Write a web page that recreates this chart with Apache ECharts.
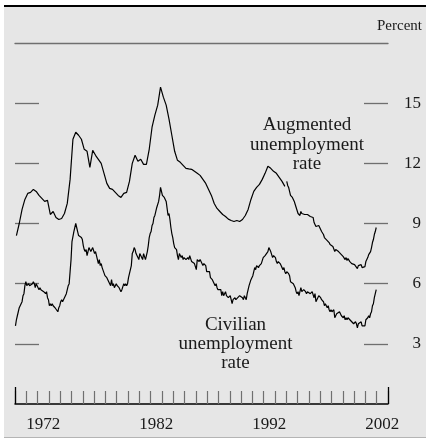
<!DOCTYPE html>
<html>
<head>
<meta charset="utf-8">
<script src="https://cdn.jsdelivr.net/npm/echarts@6/dist/echarts.min.js"></script>
<style>
  html, body { margin: 0; padding: 0; background: #ffffff; }
  #frame { position: absolute; left: 4px; top: 5px; width: 422px; height: 430px;
           background: #e6e6e6; border-top: 2.5px solid #000; border-bottom: 1px solid #b4b4b4; }
  #chart { position: absolute; left: 0; top: 0; width: 426px; height: 439px; }
</style>
</head>
<body>
<div id="frame"></div>
<div id="chart"></div>
<script>
// Civilian unemployment rate, monthly, Jan 1970 - Dec 2001 (percent)
const civilianMonthly = [
  3.9,4.2,4.4,4.6,4.8,4.9,5.0,5.1,5.4,5.5,5.9,6.1,
  5.9,5.9,6.0,5.9,5.9,5.9,6.0,6.1,6.0,5.8,6.0,6.0,
  5.8,5.7,5.8,5.7,5.7,5.7,5.6,5.6,5.5,5.6,5.3,5.2,
  4.9,5.0,4.9,5.0,4.9,4.9,4.8,4.8,4.8,4.6,4.8,4.9,
  5.1,5.2,5.1,5.1,5.1,5.4,5.5,5.5,5.9,6.0,6.6,7.2,
  8.1,8.1,8.6,8.8,9.0,8.8,8.6,8.4,8.4,8.4,8.3,8.2,
  7.9,7.7,7.6,7.7,7.4,7.6,7.8,7.8,7.6,7.7,7.8,7.8,
  7.5,7.6,7.4,7.2,7.0,7.2,6.9,7.0,6.8,6.8,6.8,6.4,
  6.4,6.3,6.3,6.1,6.0,5.9,6.2,5.9,6.0,5.8,5.9,6.0,
  5.9,5.9,5.8,5.8,5.6,5.7,5.7,6.0,5.9,6.0,5.9,6.0,
  6.3,6.3,6.3,6.9,7.5,7.6,7.8,7.7,7.5,7.5,7.5,7.2,
  7.5,7.4,7.4,7.2,7.5,7.5,7.2,7.4,7.6,7.9,8.3,8.5,
  8.6,8.9,9.0,9.3,9.4,9.6,9.8,9.8,10.1,10.4,10.8,10.8,
  10.4,10.4,10.3,10.2,10.1,10.1,9.4,9.5,9.2,8.8,8.5,8.3,
  8.0,7.8,7.8,7.7,7.4,7.2,7.5,7.5,7.3,7.4,7.2,7.3,
  7.3,7.2,7.2,7.3,7.2,7.4,7.4,7.1,7.1,7.1,7.0,7.0,
  6.7,7.2,7.2,7.1,7.2,7.2,7.0,6.9,7.0,7.0,6.9,6.6,
  6.6,6.6,6.6,6.3,6.3,6.2,6.1,6.0,5.9,6.0,5.8,5.7,
  5.7,5.7,5.7,5.4,5.6,5.4,5.4,5.6,5.4,5.4,5.3,5.3,
  5.4,5.2,5.0,5.2,5.2,5.3,5.2,5.2,5.3,5.3,5.4,5.4,
  5.4,5.3,5.2,5.4,5.4,5.2,5.5,5.7,5.9,5.9,6.2,6.3,
  6.4,6.6,6.8,6.7,6.9,6.9,6.8,6.9,6.9,7.0,7.0,7.3,
  7.3,7.4,7.4,7.4,7.6,7.8,7.7,7.6,7.6,7.3,7.4,7.4,
  7.3,7.1,7.0,7.1,7.1,7.0,6.9,6.8,6.7,6.8,6.6,6.5,
  6.6,6.6,6.5,6.4,6.1,6.1,6.1,6.0,5.9,5.8,5.6,5.5,
  5.6,5.4,5.4,5.8,5.6,5.6,5.7,5.7,5.6,5.5,5.6,5.6,
  5.6,5.5,5.5,5.6,5.6,5.3,5.5,5.1,5.2,5.2,5.4,5.4,
  5.3,5.2,5.2,5.1,4.9,5.0,4.9,4.8,4.9,4.7,4.6,4.7,
  4.6,4.6,4.7,4.3,4.4,4.5,4.5,4.5,4.6,4.5,4.4,4.4,
  4.3,4.4,4.2,4.3,4.2,4.3,4.3,4.2,4.2,4.1,4.1,4.0,
  4.0,4.1,4.0,3.8,4.0,4.0,4.0,4.1,3.9,3.9,3.9,3.9,
  4.2,4.2,4.3,4.4,4.3,4.5,4.6,4.9,5.0,5.3,5.5,5.7
];
const civilianStart = 1970;

// Augmented unemployment rate, quarterly, 1970Q1 - 1993Q4 (percent)
const augmentedQuarterly = [
  8.4,9.0,9.7,10.2,
  10.5,10.55,10.7,10.6,
  10.4,10.25,10.1,10.15,
  9.45,9.6,9.3,9.2,
  9.25,9.5,10.0,11.2,
  13.2,13.55,13.4,13.2,
  12.7,12.6,11.8,12.65,
  12.4,12.2,12.0,11.5,
  11.0,10.75,10.7,10.55,
  10.4,10.3,10.5,10.55,
  11.1,12.0,12.4,12.1,
  12.2,11.95,11.95,12.7,
  13.8,14.4,14.9,15.8,
  15.3,14.9,14.2,13.4,
  12.6,12.15,12.05,11.9,
  11.75,11.72,11.7,11.6,
  11.5,11.4,11.2,11.0,
  10.7,10.4,10.0,9.75,
  9.6,9.45,9.35,9.22,
  9.15,9.1,9.15,9.1,
  9.2,9.4,9.7,10.2,
  10.6,10.8,10.95,11.2,
  11.5,11.85,11.75,11.6,
  11.5,11.3,11.1,10.85
];
const augmentedQuarterlyStart = 1970;

// Augmented unemployment rate, monthly, Jan 1994 - Dec 2001 (percent)
const augmentedMonthly = [
  11.1,10.9,10.8,10.6,10.4,10.35,10.3,10.25,10.1,9.95,9.8,9.65,
  9.5,9.45,9.4,9.6,9.5,9.45,9.5,9.45,9.4,9.4,9.45,9.4,
  9.45,9.35,9.3,9.35,9.3,9.05,9.1,8.85,8.9,8.85,8.9,8.8,
  8.7,8.6,8.55,8.45,8.3,8.35,8.25,8.15,8.2,8.05,7.95,8.0,
  7.9,7.85,7.9,7.6,7.7,7.7,7.65,7.6,7.65,7.55,7.45,7.45,
  7.35,7.4,7.2,7.3,7.15,7.25,7.2,7.1,7.1,7.0,7.05,6.95,
  6.95,7.0,6.9,6.75,6.9,6.85,6.85,6.95,6.8,6.8,6.85,6.85,
  7.1,7.15,7.3,7.45,7.4,7.6,7.8,8.05,8.2,8.45,8.6,8.8
];
const augmentedMonthlyStart = 1994;

// Axis tick labels
const xLabelYears = [1972, 1982, 1992, 2002];
const yTickValues = [3, 6, 9, 12, 15];

const monthly = (arr, start) => arr.map((v, i) => [start + (i + 0.5) / 12, v]);
const quarterly = (arr, start) => arr.map((v, i) => [start + (i + 0.5) / 4, v]);

const serif = '"Liberation Serif", "Times New Roman", serif';
const tickGray = '#6f6f6f';
const lineStyle = { color: '#000', width: 1.2 };

const chart = echarts.init(document.getElementById('chart'), null, { renderer: 'canvas' });
chart.setOption({
  backgroundColor: 'transparent',
  animation: false,
  title: {
    text: 'Percent', right: 4, top: 19, padding: 0,
    textStyle: { fontFamily: serif, fontSize: 15, fontWeight: 'normal', color: '#1a1a1a' }
  },
  grid: { left: 15, right: 38, top: 43, bottom: 35 },
  xAxis: [
    {
      type: 'value', min: 1970, max: 2003, interval: 1,
      axisLine: { show: true, onZero: false, lineStyle: { color: '#000', width: 1.5 } },
      axisTick: { show: true, inside: true, length: 13, lineStyle: { color: tickGray, width: 1.2 } },
      axisLabel: {
        show: true, margin: 12,
        customValues: xLabelYears.map(y => y + 0.5),
        formatter: v => String(Math.floor(v)),
        fontFamily: serif, fontSize: 17, color: '#1a1a1a'
      },
      splitLine: { show: false }
    },
    {
      type: 'value', min: 1970, max: 2003, position: 'bottom',
      axisLine: { show: false, onZero: false },
      axisTick: { show: true, inside: true, length: 17, customValues: [1970, 2003],
                  lineStyle: { color: '#000', width: 1.3 } },
      axisLabel: { show: false },
      splitLine: { show: false }
    },
    {
      type: 'value', min: 1970, max: 2003, position: 'top',
      axisLine: { show: true, onZero: false, lineStyle: { color: tickGray, width: 1.3 } },
      axisTick: { show: false }, axisLabel: { show: false }, splitLine: { show: false }
    }
  ],
  yAxis: [
    {
      type: 'value', min: 0, max: 18, interval: 3, position: 'left',
      axisLine: { show: false },
      axisTick: { show: true, inside: true, length: 24, customValues: yTickValues,
                  lineStyle: { color: tickGray, width: 1.3 } },
      axisLabel: { show: false },
      splitLine: { show: false }
    },
    {
      type: 'value', min: 0, max: 18, interval: 3, position: 'right',
      axisLine: { show: false },
      axisTick: { show: true, inside: true, length: 24, customValues: yTickValues,
                  lineStyle: { color: tickGray, width: 1.3 } },
      axisLabel: {
        show: true, customValues: yTickValues, align: 'right', margin: 33,
        fontFamily: serif, fontSize: 17, color: '#1a1a1a'
      },
      splitLine: { show: false }
    }
  ],
  series: [
    { name: 'Civilian unemployment rate', type: 'line', showSymbol: false, symbol: 'none',
      data: monthly(civilianMonthly, civilianStart), lineStyle: lineStyle },
    { name: 'Augmented unemployment rate (quarterly)', type: 'line', showSymbol: false, symbol: 'none',
      data: quarterly(augmentedQuarterly, augmentedQuarterlyStart), lineStyle: lineStyle },
    { name: 'Augmented unemployment rate (monthly)', type: 'line', showSymbol: false, symbol: 'none',
      data: monthly(augmentedMonthly, augmentedMonthlyStart), lineStyle: lineStyle }
  ],
  graphic: [
    { type: 'text', x: 307, y: 145, silent: true,
      style: { text: 'Augmented\nunemployment\nrate', textAlign: 'center', textVerticalAlign: 'middle',
               fontFamily: serif, fontSize: 19, lineHeight: 19.5, fill: '#1a1a1a' } },
    { type: 'text', x: 235.5, y: 344, silent: true,
      style: { text: 'Civilian\nunemployment\nrate', textAlign: 'center', textVerticalAlign: 'middle',
               fontFamily: serif, fontSize: 19, lineHeight: 19, fill: '#1a1a1a' } }
  ]
});
</script>
</body>
</html>
